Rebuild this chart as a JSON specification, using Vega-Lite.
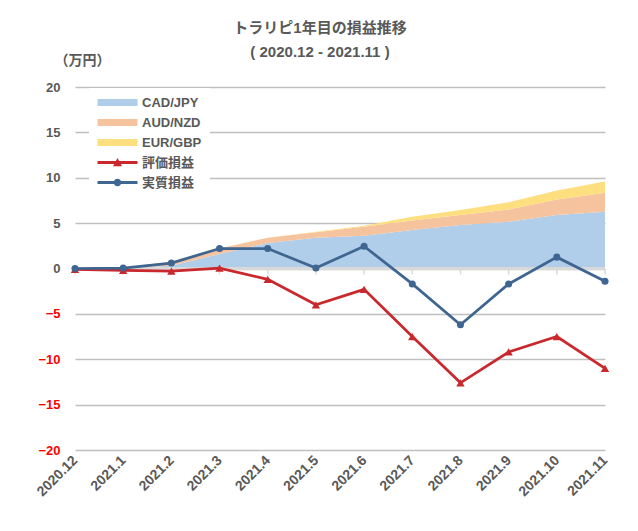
{
  "$schema": "https://vega.github.io/schema/vega-lite/v6.json",
  "autosize": "none",
  "width": 530,
  "height": 363,
  "padding": {"left": 75, "top": 87, "right": 33, "bottom": 81},
  "background": "white",
  "title": {
    "text": "トラリピ1年目の損益推移",
    "subtitle": "( 2020.12 - 2021.11 )",
    "anchor": "middle", "frame": "group", "dx": -20, "offset": -7,
    "fontSize": 15, "fontWeight": "bold", "color": "#595959",
    "subtitleFontSize": 15, "subtitleFontWeight": "bold", "subtitleColor": "#595959", "subtitlePadding": 9
  },
  "data": {"values": [
    {"month": "2020.12", "series": "CAD/JPY", "value": 0},
    {"month": "2021.1", "series": "CAD/JPY", "value": 0.05},
    {"month": "2021.2", "series": "CAD/JPY", "value": 0.3},
    {"month": "2021.3", "series": "CAD/JPY", "value": 1.6},
    {"month": "2021.4", "series": "CAD/JPY", "value": 2.8},
    {"month": "2021.5", "series": "CAD/JPY", "value": 3.4},
    {"month": "2021.6", "series": "CAD/JPY", "value": 3.6},
    {"month": "2021.7", "series": "CAD/JPY", "value": 4.25},
    {"month": "2021.8", "series": "CAD/JPY", "value": 4.8},
    {"month": "2021.9", "series": "CAD/JPY", "value": 5.15},
    {"month": "2021.10", "series": "CAD/JPY", "value": 5.9},
    {"month": "2021.11", "series": "CAD/JPY", "value": 6.25},
    {"month": "2020.12", "series": "AUD/NZD", "value": 0},
    {"month": "2021.1", "series": "AUD/NZD", "value": 0.05},
    {"month": "2021.2", "series": "AUD/NZD", "value": 0.45},
    {"month": "2021.3", "series": "AUD/NZD", "value": 0.6},
    {"month": "2021.4", "series": "AUD/NZD", "value": 0.6},
    {"month": "2021.5", "series": "AUD/NZD", "value": 0.6},
    {"month": "2021.6", "series": "AUD/NZD", "value": 1.0},
    {"month": "2021.7", "series": "AUD/NZD", "value": 1.05},
    {"month": "2021.8", "series": "AUD/NZD", "value": 1.1},
    {"month": "2021.9", "series": "AUD/NZD", "value": 1.35},
    {"month": "2021.10", "series": "AUD/NZD", "value": 1.7},
    {"month": "2021.11", "series": "AUD/NZD", "value": 2.1},
    {"month": "2020.12", "series": "EUR/GBP", "value": 0},
    {"month": "2021.1", "series": "EUR/GBP", "value": 0},
    {"month": "2021.2", "series": "EUR/GBP", "value": 0},
    {"month": "2021.3", "series": "EUR/GBP", "value": 0},
    {"month": "2021.4", "series": "EUR/GBP", "value": 0},
    {"month": "2021.5", "series": "EUR/GBP", "value": 0.05},
    {"month": "2021.6", "series": "EUR/GBP", "value": 0.1},
    {"month": "2021.7", "series": "EUR/GBP", "value": 0.4},
    {"month": "2021.8", "series": "EUR/GBP", "value": 0.55},
    {"month": "2021.9", "series": "EUR/GBP", "value": 0.8},
    {"month": "2021.10", "series": "EUR/GBP", "value": 1.0},
    {"month": "2021.11", "series": "EUR/GBP", "value": 1.25},
    {"month": "2020.12", "series": "評価損益", "value": -0.1},
    {"month": "2021.1", "series": "評価損益", "value": -0.2},
    {"month": "2021.2", "series": "評価損益", "value": -0.3},
    {"month": "2021.3", "series": "評価損益", "value": 0.05},
    {"month": "2021.4", "series": "評価損益", "value": -1.2},
    {"month": "2021.5", "series": "評価損益", "value": -4.0},
    {"month": "2021.6", "series": "評価損益", "value": -2.3},
    {"month": "2021.7", "series": "評価損益", "value": -7.5},
    {"month": "2021.8", "series": "評価損益", "value": -12.6},
    {"month": "2021.9", "series": "評価損益", "value": -9.2},
    {"month": "2021.10", "series": "評価損益", "value": -7.5},
    {"month": "2021.11", "series": "評価損益", "value": -11.0},
    {"month": "2020.12", "series": "実質損益", "value": 0},
    {"month": "2021.1", "series": "実質損益", "value": 0.05},
    {"month": "2021.2", "series": "実質損益", "value": 0.6},
    {"month": "2021.3", "series": "実質損益", "value": 2.2},
    {"month": "2021.4", "series": "実質損益", "value": 2.2},
    {"month": "2021.5", "series": "実質損益", "value": 0.05},
    {"month": "2021.6", "series": "実質損益", "value": 2.45},
    {"month": "2021.7", "series": "実質損益", "value": -1.7},
    {"month": "2021.8", "series": "実質損益", "value": -6.2},
    {"month": "2021.9", "series": "実質損益", "value": -1.7},
    {"month": "2021.10", "series": "実質損益", "value": 1.25},
    {"month": "2021.11", "series": "実質損益", "value": -1.4}
  ]},
  "encoding": {
    "x": {
      "field": "month", "type": "ordinal", "sort": null,
      "scale": {"type": "point", "padding": 0},
      "axis": {
        "title": null, "domain": false, "ticks": false, "grid": false,
        "labelAngle": -45, "labelAlign": "right", "labelBaseline": "middle", "labelPadding": 8,
        "labelFontSize": 14, "labelFontWeight": "bold", "labelColor": "#595959"
      }
    },
    "color": {
      "field": "series", "type": "nominal",
      "scale": {
        "domain": ["CAD/JPY", "AUD/NZD", "EUR/GBP", "評価損益", "実質損益"],
        "range": ["#b0cde9", "#f6c39f", "#fddf80", "#c9282d", "#3f6591"]
      },
      "legend": {
        "title": null, "orient": "none", "legendX": 14, "legendY": 1,
        "fillColor": "white", "padding": 8, "rowPadding": 6,
        "symbolSize": 100, "symbolOffset": 14, "labelOffset": 18,
        "labelFontSize": 13, "labelFontWeight": "bold", "labelColor": "#595959",
        "encode": {
          "symbols": {
            "update": {
              "shape": {"signal": "datum.value === '評価損益' ? 'M-4,-0.3H4V0.3H-4Z M-0.9,0.75L0,-0.9L0.9,0.75Z' : datum.value === '実質損益' ? 'M-4,-0.3H4V0.3H-4Z M-0.75,0A0.75,0.75 0 1,1 0.75,0A0.75,0.75 0 1,1 -0.75,0Z' : 'M-4,-0.7H4V0.7H-4Z'"},
              "fill": {"scale": "color", "field": "value"},
              "strokeWidth": {"value": 0},
              "opacity": {"value": 1}
            }
          }
        }
      }
    }
  },
  "layer": [
    {
      "transform": [
        {"filter": "indexof(['CAD/JPY','AUD/NZD','EUR/GBP'], datum.series) >= 0"},
        {"calculate": "indexof(['CAD/JPY','AUD/NZD','EUR/GBP'], datum.series)", "as": "stackOrder"}
      ],
      "mark": {"type": "area", "opacity": 1},
      "encoding": {
        "y": {
          "field": "value", "type": "quantitative", "stack": "zero",
          "scale": {"domain": [-20, 20], "nice": false},
          "axis": {
            "values": [-20, -15, -10, -5, 0, 5, 10, 15, 20],
            "title": "（万円）", "titleAngle": 0, "titleX": 7, "titleY": -27,
            "titleAlign": "center", "titleBaseline": "middle",
            "titleFontSize": 14, "titleFontWeight": "bold", "titleColor": "#595959",
            "domain": false, "ticks": false, "labelPadding": 15,
            "labelFontSize": 13, "labelFontWeight": "bold",
            "labelColor": {"condition": {"test": "datum.value < 0", "value": "#ff0000"}, "value": "#595959"},
            "gridColor": "#bfbfbf", "gridWidth": 1.5
          }
        },
        "order": {"field": "stackOrder", "type": "quantitative", "sort": "ascending"}
      }
    },
    {
      "mark": {"type": "rule", "color": "#d9d9d9", "strokeWidth": 2},
      "encoding": {"x": null, "color": null, "y": {"datum": 0}}
    },
    {
      "transform": [{"filter": "datum.series === 'CAD/JPY'"}],
      "mark": {"type": "rule", "color": "#d9d9d9", "strokeWidth": 1.5},
      "encoding": {"color": null, "y": {"datum": 0}, "y2": {"datum": -0.65}}
    },
    {
      "transform": [{"filter": "datum.series === '評価損益'"}],
      "mark": {"type": "line", "strokeWidth": 2.75, "point": {"shape": "triangle-up", "size": 70, "filled": true, "opacity": 1}},
      "encoding": {
        "y": {"field": "value", "type": "quantitative"}
      }
    },
    {
      "transform": [{"filter": "datum.series === '実質損益'"}],
      "mark": {"type": "line", "strokeWidth": 2.75, "point": {"shape": "circle", "size": 50, "filled": true, "opacity": 1}},
      "encoding": {
        "y": {"field": "value", "type": "quantitative"}
      }
    }
  ],
  "config": {
    "view": {"stroke": null},
    "font": "Liberation Sans, Noto Sans CJK JP"
  }
}
